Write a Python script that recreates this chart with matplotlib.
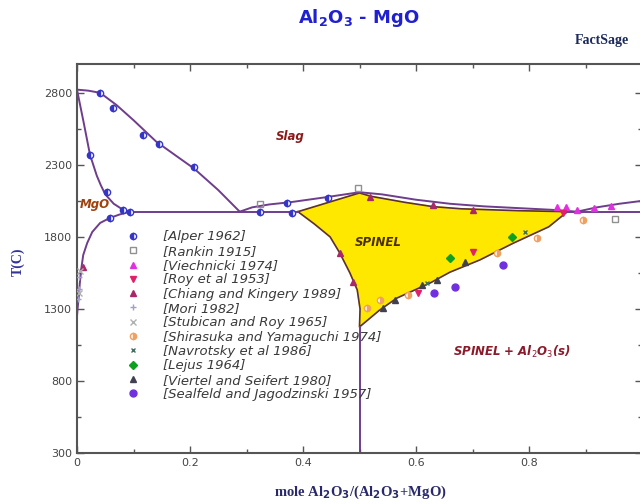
import matplotlib.pyplot as plt
from matplotlib.lines import Line2D
from matplotlib.ticker import MultipleLocator, FixedLocator

# x = mole Al2O3/(Al2O3+MgO), T in C
mgo_liq_x = [0.0, 0.02, 0.041, 0.07, 0.10, 0.14, 0.18, 0.207, 0.25, 0.288]
mgo_liq_t = [2822, 2815, 2800, 2715, 2610, 2462, 2350, 2275, 2125, 1975]

mgo_sol_x = [0.0, 0.012, 0.023, 0.035, 0.042, 0.05, 0.065, 0.08, 0.094]
mgo_sol_t = [2822, 2590, 2370, 2225, 2160, 2095, 2030, 1992, 1975]

mgo_solvus_x = [0.094, 0.075, 0.058, 0.041, 0.027, 0.018, 0.011, 0.008, 0.005, 0.003, 0.001, 0.0]
mgo_solvus_t = [1975, 1955, 1931, 1897, 1834, 1757, 1674, 1590, 1480, 1380, 1300, 1250]

sp_liq_x = [0.288, 0.31, 0.34, 0.38, 0.44, 0.50, 0.54, 0.60, 0.66, 0.72, 0.78, 0.84, 0.885]
sp_liq_t = [1975, 2005, 2025, 2042, 2075, 2110, 2095, 2058, 2030, 2012, 2000, 1988, 1975]

al_liq_x = [0.885, 0.92, 0.96, 1.0]
al_liq_t = [1975, 2005, 2030, 2050]

eut_t = 1975
eut_left = [0.094, 0.391]
eut_right = [0.868, 1.0]

spinel_x = [0.391, 0.50, 0.52, 0.58, 0.63, 0.68, 0.78, 0.868,
            0.835, 0.772, 0.713, 0.66, 0.625, 0.566, 0.535, 0.50,
            0.501, 0.496, 0.483, 0.465, 0.448, 0.42, 0.391]
spinel_t = [1975, 2105, 2082, 2040, 2010, 1995, 1982, 1975,
            1870, 1756, 1640, 1555, 1480, 1375, 1290, 1175,
            1300, 1432, 1550, 1689, 1800, 1890, 1975]

stoich_x = [0.5, 0.5]
stoich_t = [300, 1175]

# experimental points
alper_x = [0.041, 0.064, 0.117, 0.145, 0.207, 0.023, 0.053, 0.081, 0.094, 0.324, 0.372, 0.38, 0.444, 0.058]
alper_t = [2800, 2696, 2508, 2446, 2286, 2370, 2112, 1990, 1975, 1975, 2036, 1966, 2071, 1931]
rankin_x = [0.497, 0.952, 0.324]
rankin_t = [2140, 1925, 2030]
viech_x = [0.85, 0.866, 0.885, 0.915, 0.945]
viech_t = [2005, 2005, 1990, 2000, 2015]
roy_x = [0.604, 0.70, 0.86]
roy_t = [1411, 1696, 1966]
chiang_x = [0.519, 0.63, 0.70, 0.465, 0.489, 0.01]
chiang_t = [2078, 2022, 1987, 1689, 1487, 1590]
mori_x = [0.003, 0.004, 0.002]
mori_t = [1440, 1520, 1370]
stubican_x = [0.006, 0.003]
stubican_t = [1560, 1410]
shira_x = [0.513, 0.536, 0.586, 0.743, 0.814, 0.896]
shira_t = [1307, 1362, 1397, 1689, 1793, 1918]
navro_x = [0.793, 0.62]
navro_t = [1835, 1480]
lejus_x = [0.66, 0.77]
lejus_t = [1654, 1800]
viertel_x = [0.542, 0.563, 0.611, 0.637, 0.687]
viertel_t = [1307, 1362, 1467, 1501, 1626]
sealfeld_x = [0.632, 0.669, 0.754]
sealfeld_t = [1411, 1453, 1605]

x_ticks = [0, 0.2, 0.4, 0.6, 0.8, 1.0]
x_ticklabels = ['0', '0.2', '0.4', '0.6', '0.8', '']
y_ticks = [300, 800, 1300, 1800, 2300, 2800]

line_col = '#6e3d8c'

fig = plt.figure(figsize=(6.4, 5.04), dpi=100)
ax = fig.add_axes([77/640, 51/504, 565/640, 389/504])

ax.fill(spinel_x, spinel_t, color='#ffe800', zorder=1)
ax.plot(spinel_x, spinel_t, color='#5a3040', lw=1.2, zorder=2)
for xs, ts in [(mgo_liq_x, mgo_liq_t), (mgo_sol_x, mgo_sol_t), (mgo_solvus_x, mgo_solvus_t),
               (sp_liq_x, sp_liq_t), (al_liq_x, al_liq_t), (stoich_x, stoich_t)]:
    ax.plot(xs, ts, color=line_col, lw=1.4, zorder=2)
ax.plot(eut_left, [eut_t, eut_t], color=line_col, lw=1.4, zorder=2)
ax.plot(eut_right, [eut_t, eut_t], color=line_col, lw=1.4, zorder=2)

styles = [
    ('[Alper 1962]', alper_x, alper_t, dict(marker='o', color='#3535c8', fillstyle='left', markerfacecoloralt='white', ms=4.5)),
    ('[Rankin 1915]', rankin_x, rankin_t, dict(marker='s', color='#909090', mfc='none', ms=4.5)),
    ('[Viechnicki 1974]', viech_x, viech_t, dict(marker='^', color='#e030e0', ms=5)),
    ('[Roy et al 1953]', roy_x, roy_t, dict(marker='v', color='#e0206a', ms=5)),
    ('[Chiang and Kingery 1989]', chiang_x, chiang_t, dict(marker='^', color='#a82868', ms=5)),
    ('[Mori 1982]', mori_x, mori_t, dict(marker='+', color='#a0a0c8', ms=5)),
    ('[Stubican and Roy 1965]', stubican_x, stubican_t, dict(marker='x', color='#b0b0b0', ms=4.5)),
    ('[Shirasuka and Yamaguchi 1974]', shira_x, shira_t, dict(marker='o', color='#f0a060', fillstyle='right', markerfacecoloralt='white', ms=4.5)),
    ('[Navrotsky et al 1986]', navro_x, navro_t, dict(marker='x', color='#407060', ms=3.5)),
    ('[Lejus 1964]', lejus_x, lejus_t, dict(marker='D', color='#10a020', ms=4)),
    ('[Viertel and Seifert 1980]', viertel_x, viertel_t, dict(marker='^', color='#404050', ms=4.5)),
    ('[Sealfeld and Jagodzinski 1957]', sealfeld_x, sealfeld_t, dict(marker='o', color='#7030e0', ms=5)),
]
handles = []
for label, xs, ts, kw in styles:
    ax.plot(xs, ts, ls='none', zorder=3, **kw)
    handles.append(Line2D([], [], ls='none', label=label, **kw))

leg = ax.legend(handles=handles, loc='upper left', bbox_to_anchor=(0.0874, 0.572),
                frameon=False, borderpad=0, borderaxespad=0, handlelength=1.0,
                handletextpad=1.8, labelspacing=0.1,
                prop=dict(size=9.5, style='italic'))
for t in leg.get_texts():
    t.set_color('#3a3a3a')

lab = dict(style='italic', fontweight='bold', fontsize=8.5, ha='center', va='center')
ax.text(0.377, 2494, 'Slag', color='#8b1a1a', **lab)
ax.text(0.032, 2022, 'MgO', color='#a0400a', **lab)
ax.text(0.533, 1758, 'SPINEL', color='#4a3000', **lab)
ax.text(0.77, 1001, r'SPINEL + Al$_2$O$_3$(s)', color='#8b1a2a', **lab)

ax.set_xlim(0, 1)
ax.set_ylim(300, 3000)
ax.xaxis.set_major_locator(FixedLocator(x_ticks))
ax.set_xticklabels(x_ticklabels)
ax.xaxis.set_minor_locator(MultipleLocator(0.1))
ax.yaxis.set_major_locator(FixedLocator(y_ticks))
ax.yaxis.set_minor_locator(FixedLocator([550, 1050, 1550, 2050, 2550]))
ax.tick_params(which='both', direction='in', top=True, right=True, colors='#555555',
               labelcolor='#444444', labelsize=8, width=1)
ax.tick_params(which='major', length=5)
ax.tick_params(which='minor', length=3)
for s in ax.spines.values():
    s.set_color('#555555')
    s.set_linewidth(1.5)

fig.text(0.561, 0.964, r'Al$_\mathbf{2}$O$_\mathbf{3}$ - MgO', color='#2020d0', fontsize=13,
         fontweight='bold', ha='center', va='center')
fig.text(0.94, 0.92, 'FactSage', color='#1a2a5a', fontsize=10, fontweight='bold',
         family='Liberation Serif', ha='center', va='center')
fig.text(0.028, 0.48, 'T(C)', color='#333399', fontsize=10, fontweight='bold',
         family='Liberation Serif', rotation=90, ha='center', va='center')
fig.text(0.5625, 0.024, r'mole Al$_\mathbf{2}$O$_\mathbf{3}$/(Al$_\mathbf{2}$O$_\mathbf{3}$+MgO)',
         color='#2a2a6a', fontsize=10.5, fontweight='bold', family='Liberation Serif',
         ha='center', va='center')

fig.savefig('out.png', dpi=100)
